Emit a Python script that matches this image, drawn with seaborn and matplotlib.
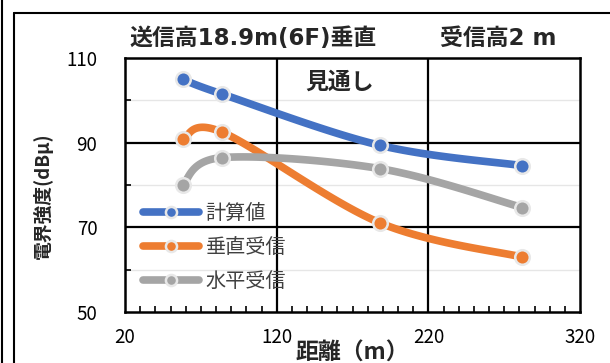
import numpy as np
import pandas as pd
import seaborn as sns
import matplotlib
matplotlib.use("Agg")
import matplotlib.pyplot as plt
from matplotlib.lines import Line2D
from matplotlib.ticker import MultipleLocator

# ---- data ----
distance = [58, 84, 188, 282]
calc = [105.0, 101.5, 89.4, 84.6]
vertical = [90.8, 92.5, 71.1, 63.0]
horizontal = [80.1, 86.5, 83.9, 74.7]
series_names = ["計算値", "垂直受信", "水平受信"]
colors = ["#4472C4", "#ED7D31", "#A5A5A5"]
x_ticks = [20, 120, 220, 320]
y_ticks = [50, 70, 90, 110]

sns.set_theme(style="white")
plt.rcParams["font.family"] = ["Noto Sans CJK JP", "DejaVu Sans"]
plt.rcParams["ytick.major.pad"] = 20
plt.rcParams["xtick.major.pad"] = 11
plt.rcParams["ytick.major.size"] = 0
plt.rcParams["xtick.major.size"] = 0

fig = plt.figure(figsize=(6.1, 3.63), dpi=100)
ax = fig.add_axes([0.205, 0.140, 0.746, 0.700])

XS, YS = 1.52, 4.22  # px per unit for smoothing in screen space


def smooth(xs, ys, n=40):
    p = np.column_stack([np.array(xs) * XS, np.array(ys) * YS])
    pts = np.vstack([p[0], p, p[-1]])
    out = []
    for i in range(1, len(pts) - 2):
        p0, p1, p2, p3 = pts[i - 1], pts[i], pts[i + 1], pts[i + 2]
        c1 = p1 + (p2 - p0) / 6.0
        c2 = p2 - (p3 - p1) / 6.0
        t = np.linspace(0, 1, n)[:, None]
        seg = ((1 - t) ** 3) * p1 + 3 * ((1 - t) ** 2) * t * c1 + 3 * (1 - t) * t ** 2 * c2 + t ** 3 * p2
        out.append(seg)
    c = np.vstack(out)
    return c[:, 0] / XS, c[:, 1] / YS


# gridlines
for yv in [60, 80, 100]:
    ax.axhline(yv, color="#e6e6e6", lw=1.0, zorder=0)
for yv in [70, 90]:
    ax.axhline(yv, color="black", lw=1.6, zorder=1)
for xv in [120, 220]:
    ax.axvline(xv, color="black", lw=1.6, zorder=1)

handles = []
for name, ys, col in zip(series_names, [calc, vertical, horizontal], colors):
    sx, sy = smooth(distance, ys)
    curve = pd.DataFrame({"x": sx, "y": sy})
    sns.lineplot(data=curve, x="x", y="y", sort=False, estimator=None, ax=ax,
                 color=col, lw=5.5, solid_capstyle="round", zorder=3)
    pts = pd.DataFrame({"x": distance, "y": ys})
    sns.scatterplot(data=pts, x="x", y="y", ax=ax, color=col, s=110,
                    edgecolor="#e8e8e8", linewidth=1.8, zorder=4)
    handles.append(Line2D([0], [0], color=col, lw=5.5, solid_capstyle="round",
                          marker="o", markersize=8, markerfacecolor=col,
                          markeredgecolor="#e8e8e8", markeredgewidth=1.8))

ax.set_xlim(20, 320)
ax.set_ylim(50, 110)
ax.set_xticks(x_ticks)
ax.set_yticks(y_ticks)
ax.xaxis.set_minor_locator(MultipleLocator(10))
ax.yaxis.set_minor_locator(MultipleLocator(10))
ax.tick_params(axis="both", which="major", labelsize=13.5, labelcolor="black")
ax.tick_params(axis="x", which="minor", bottom=True, direction="in", length=4, width=1.2, color="black")
ax.tick_params(axis="y", which="minor", left=True, direction="in", length=4, width=1.2, color="black")
for s in ax.spines.values():
    s.set_color("black")
    s.set_linewidth(1.8)
ax.set_xlabel("")
ax.set_ylabel("")

leg = ax.legend(handles, series_names, loc="center left",
                bbox_to_anchor=((143 - 125) / 455, (312 - 247) / 254),
                frameon=False, fontsize=14.5, handlelength=2.8, labelspacing=0.65,
                handletextpad=0.3, borderaxespad=0.0, borderpad=0.0)
for t in leg.get_texts():
    t.set_color("#404040")

title_family = ["DejaVu Sans", "Noto Sans CJK JP"]
fig.text(0.213, 0.895, "送信高18.9m(6F)垂直", fontsize=16.5, fontweight="bold", ha="left",
         va="center", family=title_family)
fig.text(0.721, 0.895, "受信高2 m", fontsize=16.5, fontweight="bold", ha="left", va="center",
         family=title_family)
ax.text((305 - 125) / 455, 0.905, "見通し", transform=ax.transAxes, fontsize=16.5,
        fontweight="bold", ha="left", va="center")
fig.text(0.070, 0.46, "電界強度(dBμ)", rotation=90, fontsize=13.5, fontweight="bold",
         ha="center", va="center")
fig.text(0.577, 0.028, "距離（m）", fontsize=16.5, fontweight="bold", ha="center", va="center")

# chart frame lines
fig.add_artist(Line2D([0.004, 0.004], [0, 1], color="black", lw=1.5, transform=fig.transFigure))
fig.add_artist(Line2D([0.023, 0.023], [0, 0.963], color="black", lw=1.5, transform=fig.transFigure))
fig.add_artist(Line2D([0.023, 1.0], [0.963, 0.963], color="black", lw=1.5, transform=fig.transFigure))

fig.savefig("out.png", dpi=100, facecolor="white")
